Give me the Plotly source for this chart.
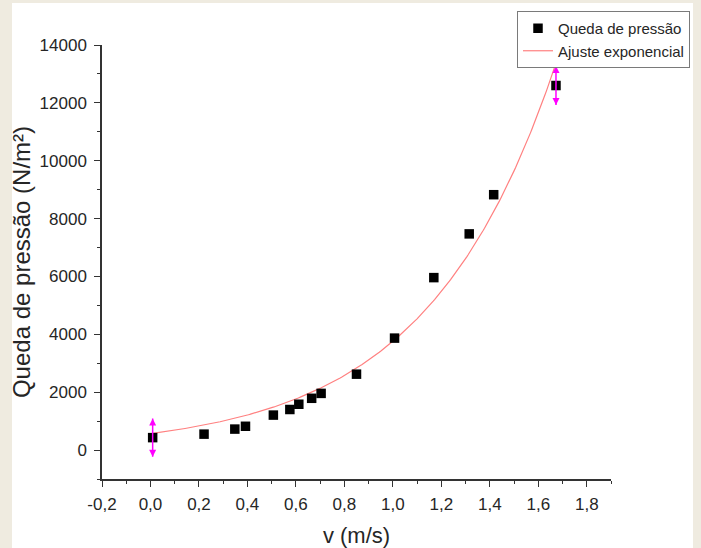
import numpy as np
import plotly.graph_objects as go

# Measured flow velocity (m/s) and pressure drop (N/m²)
velocidade = [0.009, 0.221, 0.348, 0.392, 0.507, 0.575, 0.612, 0.665, 0.704,
              0.850, 1.007, 1.169, 1.315, 1.416, 1.673]
queda = [430, 550, 725, 822, 1209, 1402, 1584, 1789, 1959,
         2623, 3869, 5960, 7472, 8826, 12600]

# Uncertainty shown on the first and last measurements
erro_extremos = [660, 670]

# Exponential fit  y = A * exp(B * v)
ajuste_A = 570.0
ajuste_B = 1.886

x_ticks = [-0.2, 0.0, 0.2, 0.4, 0.6, 0.8, 1.0, 1.2, 1.4, 1.6, 1.8]
x_ticktext = ["-0,2", "0,0", "0,2", "0,4", "0,6", "0,8", "1,0", "1,2", "1,4", "1,6", "1,8"]
y_ticks = [0, 2000, 4000, 6000, 8000, 10000, 12000, 14000]
y_ticktext = ["0", "2000", "4000", "6000", "8000", "10000", "12000", "14000"]

FONT = "Arial, Liberation Sans, sans-serif"
AXIS_COLOR = "#333333"
TEXT_COLOR = "#262626"

v_fit = np.linspace(min(velocidade), max(velocidade), 300)
y_fit = ajuste_A * np.exp(ajuste_B * v_fit)

fig = go.Figure()

fig.add_trace(go.Scatter(
    x=v_fit, y=y_fit, mode="lines", name="Ajuste exponencial",
    line=dict(color="#ff8080", width=1.2), legendrank=2,
))

fig.add_trace(go.Scatter(
    x=velocidade, y=queda, mode="markers", name="Queda de pressão",
    marker=dict(symbol="square", size=9.5, color="black"), legendrank=1,
))

# error bars with arrow heads on the end points
ext_x = [velocidade[0], velocidade[-1]]
ext_y = [queda[0], queda[-1]]
fig.add_trace(go.Scatter(
    x=ext_x, y=ext_y, mode="markers", showlegend=False,
    marker=dict(size=1, color="rgba(0,0,0,0)"),
    error_y=dict(type="data", array=erro_extremos, color="#ff00ff",
                 thickness=1.5, width=0),
))
fig.add_trace(go.Scatter(
    x=ext_x, y=[y + e for y, e in zip(ext_y, erro_extremos)], mode="markers",
    showlegend=False, marker=dict(symbol="arrow-up", size=7, color="#ff00ff"),
))
fig.add_trace(go.Scatter(
    x=ext_x, y=[y - e for y, e in zip(ext_y, erro_extremos)], mode="markers",
    showlegend=False, marker=dict(symbol="arrow-down", size=7, color="#ff00ff"),
))

axis_common = dict(
    showline=True, linecolor=AXIS_COLOR, linewidth=1.5,
    ticks="outside", ticklen=6, tickwidth=1.3, tickcolor=AXIS_COLOR,
    showgrid=False, zeroline=False, mirror=False, automargin=False,
    tickfont=dict(family=FONT, size=17, color=TEXT_COLOR),
)

fig.update_xaxes(
    range=[-0.2, 1.9], tickvals=x_ticks, ticktext=x_ticktext,
    ticklabelstandoff=3,
    minor=dict(dtick=0.1, tick0=0, ticks="outside", ticklen=3,
               tickcolor=AXIS_COLOR, tickwidth=1.3),
    title=dict(text="v (m/s)", font=dict(family=FONT, size=22, color=TEXT_COLOR),
               standoff=20),
    **axis_common,
)
fig.update_yaxes(
    range=[-1000, 14000], tickvals=y_ticks, ticktext=y_ticktext,
    ticklabelstandoff=4,
    minor=dict(dtick=1000, tick0=0, ticks="outside", ticklen=3,
               tickcolor=AXIS_COLOR, tickwidth=1.3),
    title=dict(text="Queda de pressão (N/m²)",
               font=dict(family=FONT, size=24, color=TEXT_COLOR), standoff=2),
    **axis_common,
)

W, H = 701, 548
ML, MR, MT, MB = 102, 90, 45, 69
pw, ph = W - ML - MR, H - MT - MB

def px_to_paper_x(px):
    return (px - ML) / pw

def px_to_paper_y(py):
    return (H - MB - py) / ph

fig.update_layout(
    width=W, height=H,
    margin=dict(l=ML, r=MR, t=MT, b=MB, pad=0, autoexpand=False),
    paper_bgcolor="#efebe0", plot_bgcolor="white",
    font=dict(family=FONT, color=TEXT_COLOR),
    legend=dict(
        x=px_to_paper_x(690), y=px_to_paper_y(11),
        xanchor="right", yanchor="top",
        bgcolor="white", bordercolor="#7a7a7a", borderwidth=1,
        font=dict(family=FONT, size=15, color=TEXT_COLOR),
        itemwidth=30, tracegroupgap=0,
    ),
    shapes=[dict(
        type="rect", xref="paper", yref="paper", layer="below",
        x0=px_to_paper_x(12), x1=px_to_paper_x(693),
        y0=px_to_paper_y(H + 5), y1=px_to_paper_y(3),
        fillcolor="white", line=dict(width=0),
    )],
)

fig.write_html("out.html")
